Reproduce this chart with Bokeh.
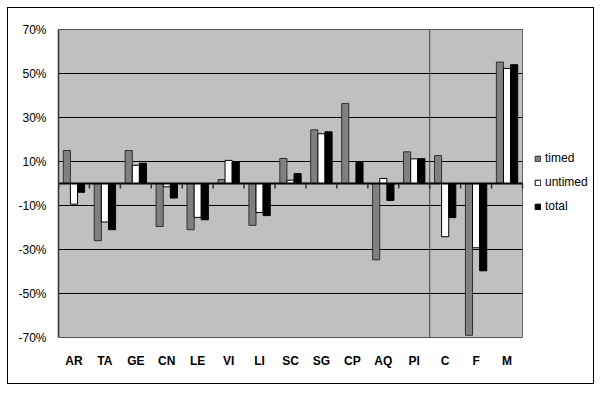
from bokeh.plotting import figure
from bokeh.models import (Range1d, FixedTicker, PrintfTickFormatter,
                          Legend, LegendItem, Span, ColumnDataSource)
from bokeh.transform import dodge
from bokeh.embed import file_html
from bokeh.resources import INLINE

categories = ["AR", "TA", "GE", "CN", "LE", "VI", "LI", "SC", "SG", "CP", "AQ", "PI", "C", "F", "M"]
timed = [15, -26, 15, -19.5, -21, 1.8, -19, 11.4, 24.4, 36.4, -34.7, 14.4, 12.7, -69, 55.2]
untimed = [-9.4, -17.5, 8.3, -1.5, -15.4, 10.5, -13.2, 1.5, 22.6, 0, 2.3, 11.2, -24.2, -29.2, 52.3]
total = [-4, -21, 9.2, -6.6, -16.5, 9.8, -14.6, 4.5, 23.5, 9.5, -7.7, 11.3, -15.5, -39.7, 54]
y_ticks = [-70, -50, -30, -10, 10, 30, 50, 70]
separator_after = 12  # groups before the vertical separator

FONT = "Liberation Sans"
n = len(categories)
pos = [i + 0.5 for i in range(n)]

# layout (pixels)
W, H = 585, 375
LEFT, TOP, BOTTOM = 50, 21, 46
AREA_W = 464                     # width of the grey plotting area
FRAME_W = W - LEFT               # frame extends under the legend

src = ColumnDataSource(dict(x=pos, timed=timed, untimed=untimed, total=total))

p = figure(x_range=Range1d(0, n * FRAME_W / AREA_W),
           y_range=Range1d(min(y_ticks), max(y_ticks)),
           width=W, height=H, output_backend="svg", toolbar_location=None,
           min_border_left=LEFT, min_border_right=0, min_border_top=TOP,
           min_border_bottom=BOTTOM)
p.margin = (8, 0, 0, 8)
p.styles = {"outline": "1px solid black", "box-shadow": "1px 1px 0px #404040"}
p.background_fill_color = "white"
p.border_fill_color = "white"
p.outline_line_color = None
p.xgrid.grid_line_color = None
p.ygrid.grid_line_color = None

# grey plotting area
p.quad(left=[0], right=[n], bottom=[min(y_ticks)], top=[max(y_ticks)],
       fill_color="#c0c0c0", line_color="#606060", line_width=1)

# horizontal grid lines
p.segment(x0=[0] * len(y_ticks), x1=[n] * len(y_ticks), y0=y_ticks, y1=y_ticks,
          line_color="black", line_width=1)

# y axis
p.yaxis.ticker = FixedTicker(ticks=y_ticks)
p.yaxis.formatter = PrintfTickFormatter(format="%d%%")
p.yaxis.major_tick_out = 0
p.yaxis.major_tick_in = 0
p.yaxis.minor_tick_line_color = None
p.yaxis.axis_line_color = "#303030"
p.yaxis.axis_line_width = 1.5
p.yaxis.major_label_text_font = FONT
p.yaxis.major_label_text_font_size = "12px"
p.yaxis.major_label_text_color = "black"
p.yaxis.major_label_standoff = 12

# x axis (category labels)
p.xaxis.ticker = FixedTicker(ticks=pos)
p.xaxis.major_label_overrides = {x: c for x, c in zip(pos, categories)}
p.xaxis.axis_line_color = None
p.xaxis.major_tick_line_color = None
p.xaxis.minor_tick_line_color = None
p.xaxis.major_label_text_font = FONT
p.xaxis.major_label_text_font_style = "bold"
p.xaxis.major_label_text_font_size = "12px"
p.xaxis.major_label_text_color = "black"
p.xaxis.major_label_standoff = 10

# separator
p.segment(x0=[separator_after], x1=[separator_after], y0=[min(y_ticks)], y1=[max(y_ticks)],
          line_color="#404040", line_width=1)

w = 0.23
r1 = p.vbar(x=dodge("x", -w), top="timed", bottom=0, width=w,
            source=src, fill_color="#808080", line_color="#303030", line_width=1)
r2 = p.vbar(x=dodge("x", 0), top="untimed", bottom=0, width=w,
            source=src, fill_color="white", line_color="black", line_width=1)
r3 = p.vbar(x=dodge("x", w), top="total", bottom=0, width=w,
            source=src, fill_color="black", line_color="black", line_width=1)

# zero line with small category ticks
p.segment(x0=[0], x1=[n], y0=[0], y1=[0], line_color="black", line_width=2)
bounds = list(range(n + 1))
p.segment(x0=bounds, x1=bounds, y0=[0] * len(bounds), y1=[-2.3] * len(bounds),
          line_color="#303030", line_width=1.5)

legend = Legend(items=[LegendItem(label="timed", renderers=[r1]),
                       LegendItem(label="untimed", renderers=[r2]),
                       LegendItem(label="total", renderers=[r3])],
                location=(AREA_W + 12, 124))
legend.border_line_color = None
legend.background_fill_alpha = 0
legend.padding = 0
legend.margin = 0
legend.spacing = 10
legend.glyph_width = 7
legend.glyph_height = 7
legend.label_height = 14
legend.label_standoff = 4
legend.label_text_font = FONT
legend.label_text_font_size = "12px"
legend.label_text_color = "black"
p.add_layout(legend)

open("out.html", "w").write(file_html(p, INLINE))
